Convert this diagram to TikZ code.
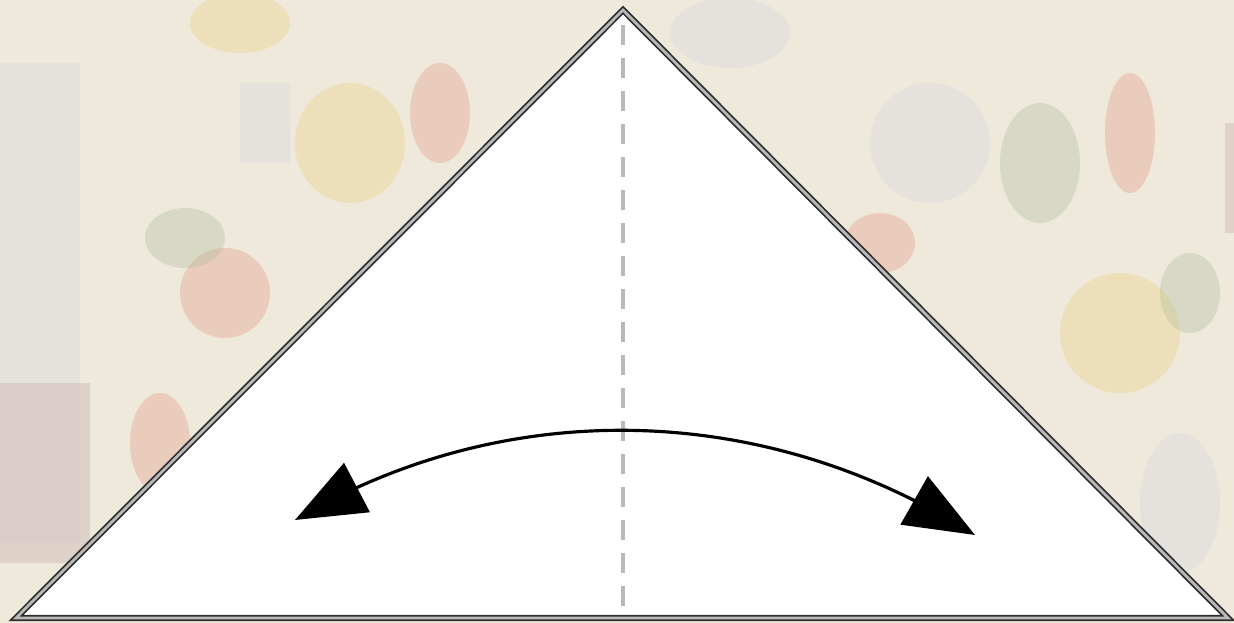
\documentclass[tikz,border=0pt]{standalone}
\usepackage{tikz}
\usetikzlibrary{arrows.meta,bending,calc}
\usepackage{xcolor}
\definecolor{paperbeige}{RGB}{238,233,218}
\definecolor{blossomred}{RGB}{226,150,130}
\definecolor{blossomyellow}{RGB}{240,205,130}
\definecolor{lattice}{RGB}{215,215,232}
\definecolor{leafgreen}{RGB}{175,190,155}
\definecolor{plumbrown}{RGB}{195,165,165}
\definecolor{foldline}{RGB}{45,45,45}

\begin{document}
\begin{tikzpicture}[
    blob/.style={fill=#1,opacity=0.35,draw=none},
    edge/.style={draw=foldline,double=gray!55,double distance=0.8pt,line width=0.5pt,line join=miter},
    valley/.style={gray!55,line width=1.2pt,dash pattern=on 0.2cm off 0.13cm},
    swing/.style={line width=0.9pt,{Triangle[length=0.7cm,width=0.55cm,flex]}-{Triangle[length=0.7cm,width=0.55cm,flex]}}
  ]
        \useasboundingbox (0,0) rectangle (12.34,6.23);
        % Patterned paper behind
        \fill[paperbeige] (0,0) rectangle (12.34,6.23);
        \fill[blob=lattice] (0,0.8) rectangle (0.8,5.6);
        \fill[blob=plumbrown] (0,0.6) rectangle (0.9,2.4);
        \fill[blob=blossomred] (2.25,3.3) ellipse (0.45 and 0.45);
        \fill[blob=blossomred] (1.6,1.8) ellipse (0.3 and 0.5);
        \fill[blob=leafgreen] (1.85,3.85) ellipse (0.4 and 0.3);
        \fill[blob=lattice] (2.4,4.6) rectangle (2.9,5.4);
        \fill[blob=blossomyellow] (3.5,4.8) ellipse (0.55 and 0.6);
        \fill[blob=blossomyellow] (2.4,6.0) ellipse (0.5 and 0.3);
        \fill[blob=blossomred] (4.4,5.1) ellipse (0.3 and 0.5);
        \fill[blob=lattice] (7.3,5.9) ellipse (0.6 and 0.35);
        \fill[blob=lattice] (9.3,4.8) ellipse (0.6 and 0.6);
        \fill[blob=blossomred] (8.8,3.8) ellipse (0.35 and 0.3);
        \fill[blob=blossomred] (11.3,4.9) ellipse (0.25 and 0.6);
        \fill[blob=leafgreen] (10.4,4.6) ellipse (0.4 and 0.6);
        \fill[blob=blossomyellow] (11.2,2.9) ellipse (0.6 and 0.6);
        \fill[blob=leafgreen] (11.9,3.3) ellipse (0.3 and 0.4);
        \fill[blob=plumbrown] (12.25,3.9) rectangle (12.34,5.0);
        \fill[blob=lattice] (11.8,1.2) ellipse (0.4 and 0.7);
        % Folded triangle
        \coordinate (apex) at (6.23,6.13);
        \coordinate (lcorner) at (0.16,0.05);
        \coordinate (rcorner) at (12.28,0.05);
        \coordinate (bottom) at (6.23,0.05);
        \fill[white] (apex) -- (lcorner) -- (rcorner) -- cycle;
        % Center crease
        \draw[valley] ($(apex)+(0,-0.15)$) -- (bottom);
        \draw[edge] (apex) -- (lcorner) -- (rcorner) -- cycle;
        % Fold over and unfold
        \coordinate (ltip) at (2.95,1.03);
        \coordinate (rtip) at (9.75,0.88);
        \draw[swing] (ltip) .. controls (5.0,2.25) and (7.6,2.25) .. (rtip);
      \end{tikzpicture}
\end{document}
